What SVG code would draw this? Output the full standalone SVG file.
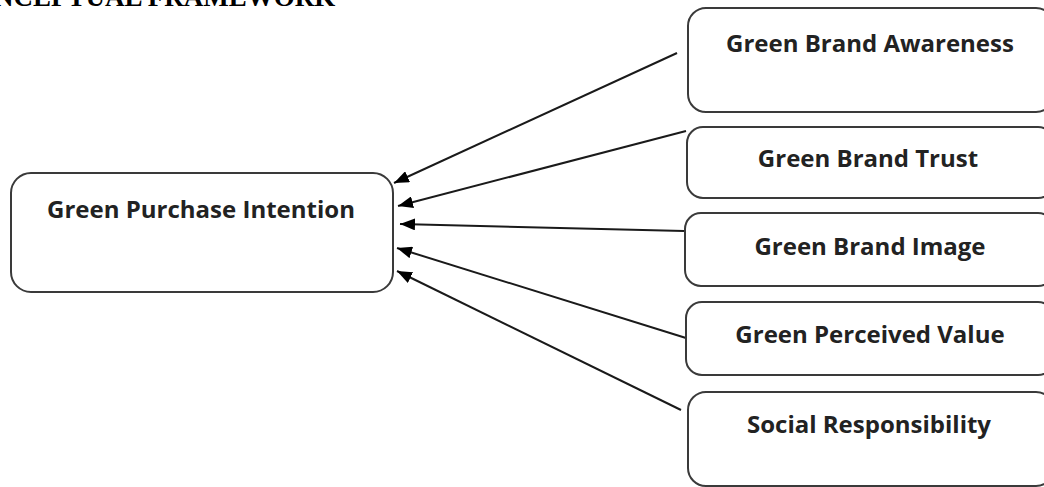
<svg xmlns="http://www.w3.org/2000/svg" width="1044" height="487" viewBox="0 0 1044 487">
<style>
.box{fill:#fff;stroke:#3a3a3a;stroke-width:2}
.lbl{font-family:"Open Sans","Liberation Sans",sans-serif;font-weight:bold;font-size:24px;fill:#222;text-anchor:middle}
.title{font-family:"Liberation Serif",serif;font-weight:bold;font-size:27px;fill:#000}
.conn{stroke:#1a1a1a;stroke-width:2;fill:none;marker-end:url(#ah)}
</style>
<defs>
<marker id="ah" markerWidth="16" markerHeight="12" refX="15" refY="6" orient="auto" markerUnits="userSpaceOnUse">
<path d="M0,0 L15,6 L0,12 z" fill="#000"/>
</marker>
</defs>
<rect width="1044" height="487" fill="#fff"/>
<text class="title" x="-6" y="6">NCEPTUAL FRAMEWORK</text>
<g id="connectors">
<line class="conn" x1="677" y1="53" x2="394" y2="183"/>
<line class="conn" x1="686" y1="131" x2="398" y2="206"/>
<line class="conn" x1="684" y1="231" x2="400" y2="224"/>
<line class="conn" x1="686" y1="338" x2="397" y2="248"/>
<line class="conn" x1="681" y1="410" x2="397" y2="271"/>
</g>
<g id="gpi">
<rect class="box" x="11" y="173" width="382" height="119" rx="20"/>
<text class="lbl" x="201" y="218">Green Purchase Intention</text>
</g>
<g id="gba">
<rect class="box" x="688" y="8" width="366" height="104" rx="18"/>
<text class="lbl" x="870" y="52">Green Brand Awareness</text>
</g>
<g id="gbt">
<rect class="box" x="687" y="127" width="367" height="71" rx="16"/>
<text class="lbl" x="868" y="167">Green Brand Trust</text>
</g>
<g id="gbi">
<rect class="box" x="685" y="213" width="369" height="73" rx="16"/>
<text class="lbl" x="870" y="255">Green Brand Image</text>
</g>
<g id="gpv">
<rect class="box" x="686" y="302" width="368" height="73" rx="16"/>
<text class="lbl" x="870" y="343">Green Perceived Value</text>
</g>
<g id="sr">
<rect class="box" x="688" y="392" width="366" height="94" rx="18"/>
<text class="lbl" x="869" y="433">Social Responsibility</text>
</g>
</svg>
